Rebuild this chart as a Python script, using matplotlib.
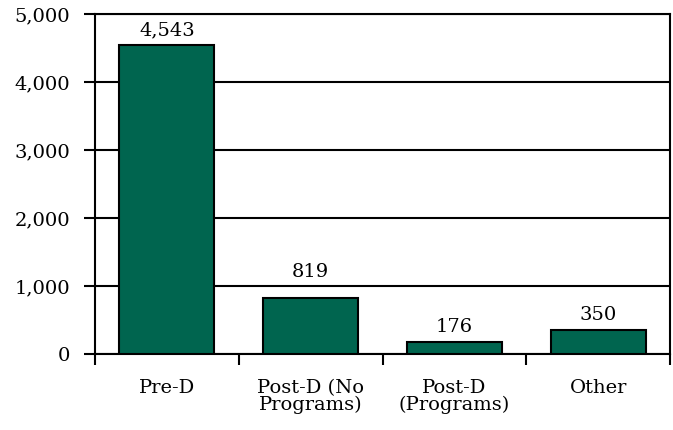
import matplotlib
matplotlib.use("Agg")
import matplotlib.pyplot as plt
from matplotlib.ticker import FuncFormatter, FixedLocator

categories = ["Pre-D", "Post-D (No\nPrograms)", "Post-D\n(Programs)", "Other"]
values = [4543, 819, 176, 350]
yticks = [0, 1000, 2000, 3000, 4000, 5000]

plt.rcParams['font.family'] = ['DejaVu Serif']

fig = plt.figure(figsize=(6.73, 4.30), dpi=100)
ax = fig.add_axes([95/673, 76/430, 575/673, 340/430])

FS = 14
x = list(range(len(categories)))
ax.bar(x, values, width=0.66, color='#00654F', edgecolor='black', linewidth=1.5, zorder=3)

ax.set_xlim(-0.5, len(categories) - 0.5)
ax.set_ylim(0, 5000)

# label placement: just above bar; if it would cross a gridline, lift it above that line
units_per_px = 5000 / 340.0
gap = 6 * units_per_px
text_h = 16 * units_per_px
for xi, v in zip(x, values):
    y0 = v + gap
    for g in yticks[1:-1]:
        if y0 - 2 * units_per_px < g < y0 + text_h:
            y0 = g + 5 * units_per_px
    y0 = min(y0, 5000 - text_h - 3 * units_per_px)
    ax.text(xi, y0, f"{v:,}", ha='center', va='bottom', fontsize=FS, zorder=4)

ax.set_yticks(yticks)
ax.yaxis.set_major_formatter(FuncFormatter(lambda v, p: f"{int(v):,}"))
ax.grid(axis='y', color='black', linewidth=1.5, zorder=1)

ax.set_xticks(x)
ax.set_xticklabels(categories, fontsize=FS, linespacing=0.88)
ax.xaxis.set_minor_locator(FixedLocator([i - 0.5 for i in range(len(categories) + 1)]))
ax.tick_params(axis='x', which='major', length=0, pad=18)
ax.tick_params(axis='x', which='minor', length=8, width=1.5, direction='out')
ax.tick_params(axis='y', length=8, width=1.5, direction='out', labelsize=FS, pad=10)

for s in ax.spines.values():
    s.set_linewidth(1.5)
    s.set_color('black')

fig.savefig("out.png", dpi=100)
